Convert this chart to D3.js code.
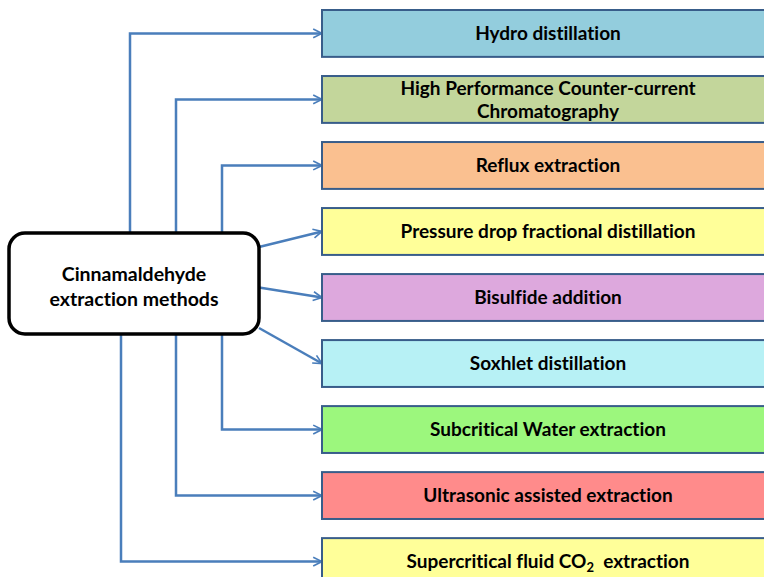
<!DOCTYPE html>
<html>
<head>
<meta charset="utf-8">
<script src="https://cdn.jsdelivr.net/npm/d3@7"></script>
<style>
  html, body { margin: 0; padding: 0; background: #fff; }
  svg { display: block; }
  text { font-variant-ligatures: none; white-space: pre; }
</style>
</head>
<body>
<div id="chart"></div>
<script>
const centerLabel = ["Cinnamaldehyde", "extraction methods"];

const methods = [
  "Hydro distillation",
  "High Performance Counter-current\nChromatography",
  "Reflux extraction",
  "Pressure drop fractional distillation",
  "Bisulfide addition",
  "Soxhlet distillation",
  "Subcritical Water extraction",
  "Ultrasonic assisted extraction",
  "Supercritical fluid CO|2|  extraction"
];

const fills = [
  "#93CDDD", "#C3D69B", "#FAC090", "#FFFF99", "#DDA8DD",
  "#B7F1F5", "#9CF77D", "#FF8B8B", "#FFFF99"
];

// how each arrow leaves the centre box
const routes = ["top", "top", "top", "side", "side", "side", "bottom", "bottom", "bottom"];

const width = 764, height = 577;
const font = "Lato, 'Open Sans', sans-serif";

const svg = d3.select("#chart").append("svg")
  .attr("width", width).attr("height", height);

svg.append("defs").append("marker")
  .attr("id", "head")
  .attr("viewBox", "0 0 10 10")
  .attr("refX", 9).attr("refY", 5)
  .attr("markerWidth", 4.4).attr("markerHeight", 4.4)
  .attr("markerUnits", "strokeWidth")
  .attr("orient", "auto")
  .append("path")
  .attr("d", "M1,1 L9,5 L1,9")
  .attr("fill", "none")
  .attr("stroke", "#4A7EBB")
  .attr("stroke-width", 1.5)
  .attr("stroke-linejoin", "miter");

const y = d3.scaleBand()
  .domain(d3.range(methods.length))
  .range([10, 585])
  .paddingInner(0.29)
  .paddingOuter(0);

const boxX = 322, boxW = 452;
const center = { x: 9, y: 233, w: 250, h: 101 };

// lanes for the elbow connectors
const laneTop = d3.scaleOrdinal().domain([0, 1, 2]).range([130, 176, 222]);
const laneBottom = d3.scaleOrdinal().domain([6, 7, 8]).range([222, 176, 121]);
const sideY = d3.scaleLinear().domain([3, 5]).range([247, 328]);

const cy = i => y(i) + y.bandwidth() / 2;

const connector = (r, i) => {
  if (r === "top") {
    const x = laneTop(i);
    return d3.line()([[x, center.y], [x, cy(i)], [boxX, cy(i)]]);
  }
  if (r === "bottom") {
    const x = laneBottom(i);
    return d3.line()([[x, center.y + center.h], [x, cy(i)], [boxX, cy(i)]]);
  }
  return d3.line()([[center.x + center.w, sideY(i)], [boxX, cy(i)]]);
};

svg.append("g").selectAll("path")
  .data(routes)
  .join("path")
  .attr("d", (r, i) => connector(r, i))
  .attr("fill", "none")
  .attr("stroke", "#4A7EBB")
  .attr("stroke-width", 2.5)
  .attr("marker-end", "url(#head)");

const boxes = svg.append("g").selectAll("g")
  .data(methods)
  .join("g");

boxes.append("rect")
  .attr("x", boxX)
  .attr("y", (d, i) => y(i))
  .attr("width", boxW)
  .attr("height", y.bandwidth())
  .attr("fill", (d, i) => fills[i])
  .attr("stroke", "#385D8A")
  .attr("stroke-width", 2);

boxes.each(function (d, i) {
  const lines = d.split("\n");
  const g = d3.select(this);
  const lh = 23;
  lines.forEach((ln, k) => {
    const t = g.append("text")
      .attr("x", boxX + boxW / 2)
      .attr("y", cy(i) + (k - (lines.length - 1) / 2) * lh)
      .attr("dy", "0.35em")
      .attr("text-anchor", "middle")
      .attr("font-family", font)
      .attr("font-weight", 700)
      .attr("font-size", 19)
      .attr("fill", "#000");
    ln.split("|").forEach((part, p) => {
      const ts = t.append("tspan").text(part);
      if (p === 1) ts.attr("font-size", 13).attr("dy", 4);
      if (p === 2) ts.attr("dy", -4);
    });
  });
});

svg.append("rect")
  .attr("x", center.x).attr("y", center.y)
  .attr("width", center.w).attr("height", center.h)
  .attr("rx", 16)
  .attr("fill", "#fff")
  .attr("stroke", "#000")
  .attr("stroke-width", 3.5);

svg.append("g").selectAll("text")
  .data(centerLabel)
  .join("text")
  .attr("x", center.x + center.w / 2)
  .attr("y", (d, i) => center.y + center.h / 2 + 3 + (i - 0.5) * 25)
  .attr("dy", "0.35em")
  .attr("text-anchor", "middle")
  .attr("font-family", font)
  .attr("font-weight", 700)
  .attr("font-size", 19.5)
  .text(d => d);
</script>
</body>
</html>
